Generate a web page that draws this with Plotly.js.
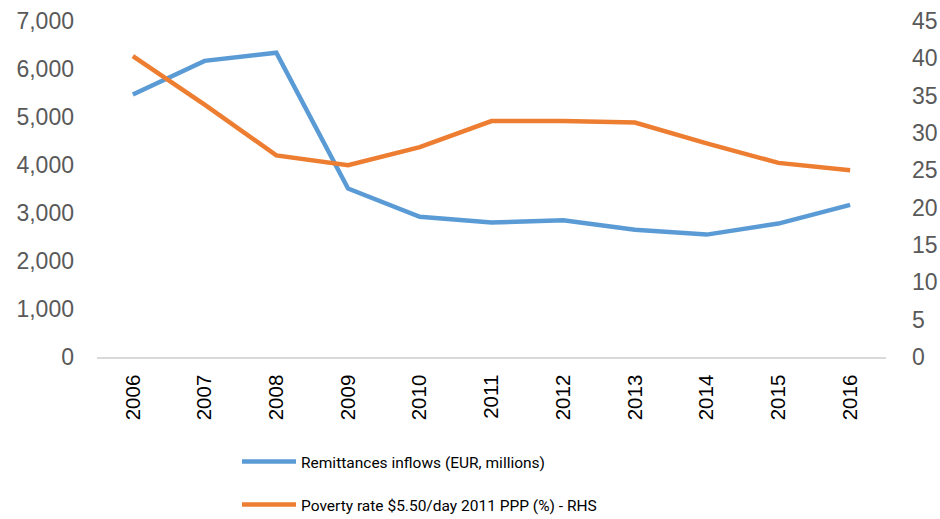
<!DOCTYPE html>
<html>
<head>
<meta charset="utf-8">
<script src="https://cdn.plot.ly/plotly-3.0.1.min.js"></script>
<style>html,body{margin:0;padding:0;background:#fff;}#chart{width:940px;height:519px;}</style>
</head>
<body>
<div id="chart"></div>
<script>
const years = ["2006","2007","2008","2009","2010","2011","2012","2013","2014","2015","2016"];
const remittances = [5470, 6170, 6340, 3510, 2920, 2800, 2850, 2650, 2550, 2780, 3170];
const poverty = [40.3, 33.8, 27.0, 25.7, 28.1, 31.6, 31.6, 31.4, 28.6, 26.0, 25.0];
const remitName = "Remittances inflows (EUR, millions)";
const povertyName = "Poverty rate $5.50/day 2011 PPP (%) - RHS";

const legendFont = {family: "Roboto, Liberation Sans, sans-serif", size: 15.5, color: "#000000"};

const traces = [
  {x: years, y: remittances, name: remitName, type: "scatter", mode: "lines",
   line: {color: "#5B9BD5", width: 4.5}, yaxis: "y", legend: "legend"},
  {x: years, y: poverty, name: povertyName, type: "scatter", mode: "lines",
   line: {color: "#ED7D31", width: 4.5}, yaxis: "y2", legend: "legend2"}
];

const layout = {
  width: 940, height: 519,
  margin: {l: 97, r: 54, t: 21, b: 162, autoexpand: false},
  paper_bgcolor: "#ffffff", plot_bgcolor: "#ffffff",
  showlegend: true,
  xaxis: {
    type: "category", range: [-0.5, 10.5], automargin: false,
    showgrid: false, zeroline: false,
    showline: true, linecolor: "#d9d9d9", linewidth: 1.5,
    tickangle: -90, ticks: "", ticklabelstandoff: 8,
    tickfont: {family: "Liberation Sans, Arial, sans-serif", size: 20.5, color: "#000000"}
  },
  yaxis: {
    range: [0, 7000], tickvals: [0,1000,2000,3000,4000,5000,6000,7000], automargin: false,
    tickformat: ",d", showgrid: false, zeroline: false, showline: false,
    ticks: "", ticklabelstandoff: 22,
    tickfont: {family: "Liberation Sans, Arial, sans-serif", size: 23, color: "#595959"}
  },
  yaxis2: {
    range: [0, 45], tickvals: [0,5,10,15,20,25,30,35,40,45], automargin: false,
    overlaying: "y", side: "right", showgrid: false, zeroline: false, showline: false,
    ticks: "", ticklabelstandoff: 25,
    tickfont: {family: "Liberation Sans, Arial, sans-serif", size: 23, color: "#595959"}
  },
  legend: {x: (237 - 97) / 789, y: -(462 - 357) / 336,
           xanchor: "left", yanchor: "middle", itemwidth: 54, font: legendFont, bgcolor: "rgba(0,0,0,0)"},
  legend2: {x: (237 - 97) / 789, y: -(505 - 357) / 336,
            xanchor: "left", yanchor: "middle", itemwidth: 54, font: legendFont, bgcolor: "rgba(0,0,0,0)"}
};

Plotly.newPlot("chart", traces, layout, {displayModeBar: false, staticPlot: true});
</script>
</body>
</html>
